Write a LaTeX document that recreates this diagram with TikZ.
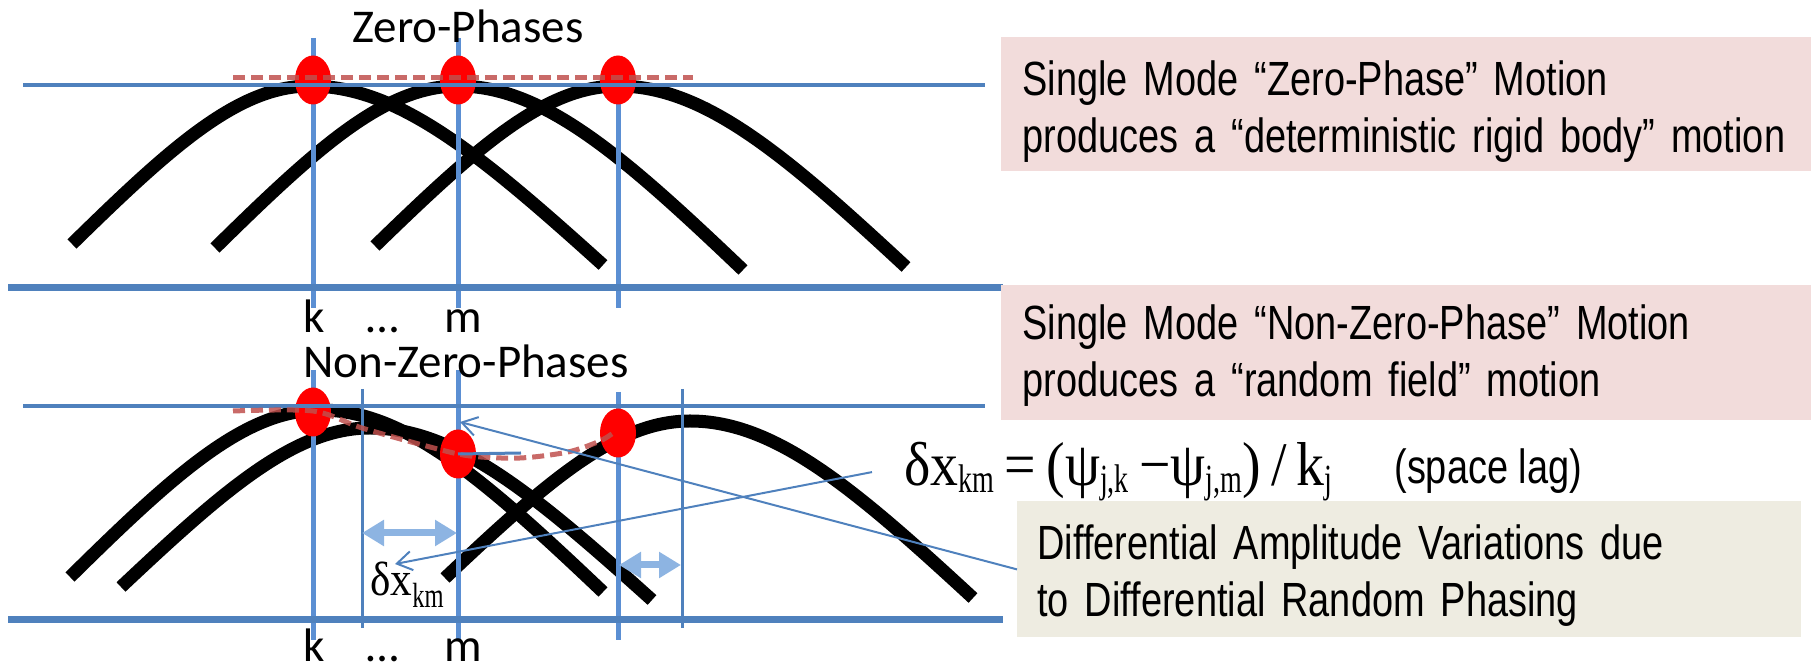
\documentclass[tikz,border=0pt]{standalone}
\usepackage{fontspec}
\setmainfont{Liberation Sans}
\newfontfamily\narrowfont{Liberation Sans}[FakeStretch=0.79]
\newfontfamily\calfont{Carlito}
\newfontfamily\eqfont{Liberation Serif}[FakeStretch=0.9]
\newfontfamily\eqsubfont{Liberation Serif}[FakeStretch=0.7]
\usetikzlibrary{arrows.meta,shapes.geometric}

\definecolor{axisblue}{HTML}{4F81BD}
\definecolor{tickblue}{HTML}{5B8FD3}
\definecolor{lagblue}{HTML}{8DB4E2}
\definecolor{phasered}{HTML}{FF0000}
\definecolor{trendred}{HTML}{C0504D}
\definecolor{notepink}{HTML}{F2DCDB}
\definecolor{notetan}{HTML}{EEECE1}

% arch: left end, peak, right end
\newcommand{\wavearch}[6]{%
  \draw[wave] (#1,#2) .. controls ({#1+0.42*(#3-#1)},{#2-0.62*(#2-#4)}) and ({#3-0.3*(#3-#1)},#4) .. (#3,#4)
    .. controls ({#3+0.3*(#5-#3)},#4) and ({#5-0.42*(#5-#3)},{#6-0.62*(#6-#4)}) .. (#5,#6);}
\newcommand{\eqsub}[2]{\raisebox{-#1}{\eqsubfont\fontsize{20pt}{21pt}\selectfont #2}}
\newcommand{\notefont}{\narrowfont\fontsize{24pt}{28.5pt}\selectfont\spaceskip=5.2pt plus 2pt minus 1pt\relax}

\begin{document}
\begin{tikzpicture}[x=0.5pt,y=-0.5pt,
		wave/.style={line width=6.5pt,black},
		axis/.style={axisblue,line width=3.5pt},
		level/.style={axisblue,line width=1.75pt},
		tick/.style={tickblue,line width=2.5pt},
		guide/.style={axisblue,line width=1.5pt},
		phasedot/.style={ellipse,fill=phasered,minimum width=18pt,minimum height=24.5pt,inner sep=0pt},
		trend/.style={trendred,line width=2.5pt,dash pattern=on 6pt off 3pt,opacity=0.85},
		lag/.style={lagblue,line width=3.5pt,{Triangle[length=11pt,width=12.5pt]}-{Triangle[length=11pt,width=12.5pt]}},
		pointer/.style={axisblue,line width=1pt,-{Straight Barb[length=7.5pt,width=9.5pt]}},
		notebox/.style={anchor=north west,inner sep=0pt,minimum height=67pt},
		notetext/.style={anchor=base west,inner sep=0pt,align=left,text width=400pt,font=\notefont},
		caltext/.style={anchor=base,inner sep=0pt,font=\calfont\fontsize{23.5pt}{28pt}\selectfont}]
		\useasboundingbox (0,0) rectangle (1811,672);

		% zero-phase panel
		\wavearch{72}{244}{310}{86}{603}{265}
		\wavearch{215}{248}{458}{86}{743}{270}
		\wavearch{375}{246}{618}{86}{906}{267}
		\draw[tick] (313,38) -- (313,308);
		\draw[tick] (458,38) -- (458,308);
		\draw[tick] (618,60) -- (618,308);
		\node[phasedot] (zk) at (313,80) {};
		\node[phasedot] (zm) at (458,80) {};
		\node[phasedot] (zn) at (618,80) {};
		\draw[level] (23,85) -- (985,85);
		\draw[trend] (233,78) -- (693,78);
		\draw[axis] (8,288) -- (1003,288);
		\node[caltext] (zerolabel) at (468,43) {Zero-Phases};
		\node[caltext] (zk label) at (314,333) {k};
		\node[caltext] (zdots) at (383,333) {…};
		\node[caltext] (zm label) at (463,333) {m};

		% non-zero-phase panel
		\wavearch{70}{577}{320}{410}{603}{592}
		\wavearch{121}{587}{370}{428}{652}{600}
		\wavearch{445}{578}{690}{421}{973}{598}
		\draw[tick] (313,370) -- (313,640);
		\draw[tick] (458,370) -- (458,640);
		\draw[tick] (618,392) -- (618,640);
		\draw[guide] (362,389) -- (362,628);
		\draw[guide] (682,389) -- (682,628);
		\node[phasedot] (nk) at (313,412) {};
		\node[phasedot] (nm) at (458,454) {};
		\node[phasedot] (nn) at (618,433) {};
		\draw[level] (23,406) -- (985,406);
		\draw[trend] plot[smooth] coordinates {(233,411) (313,411) (362,428) (430,447) (470,456) (520,458) (568,452) (600,441) (616,431)};
		\draw[guide] (nm.center) -- (521,453);
		\draw[axis] (8,620) -- (1003,620);
		\node[caltext] (nonzerolabel) at (466,378) {Non-Zero-Phases};
		\node[caltext] (nk label) at (314,662) {k};
		\node[caltext] (ndots) at (383,662) {…};
		\node[caltext] (nm label) at (463,662) {m};

		% space lags
		\coordinate (lagA) at (362,533);
		\coordinate (lagB) at (457,533);
		\coordinate (lagC) at (619,565);
		\coordinate (lagD) at (681,565);
		\draw[lag] (lagA) -- (lagB);
		\draw[lag] (lagC) -- (lagD);
		\node[anchor=base west,inner sep=0pt,font=\eqfont\fontsize{24pt}{26pt}\selectfont] (lagdelta) at (370,596)
			{δx\raisebox{-6pt}{\eqsubfont\fontsize{17.5pt}{18pt}\selectfont km}};

		% notes
		\node[notebox,fill=notepink,minimum width=405pt] (zerobox) at (1001,37) {};
		\node[notetext] (zerotext) at (1022,96) {Single Mode “Zero-Phase” Motion\\produces a “deterministic rigid body” motion};
		\node[notebox,fill=notepink,minimum width=405pt,minimum height=67.5pt] (nonzerobox) at (1001,285) {};
		\node[notetext] (nonzerotext) at (1022,340) {Single Mode “Non-Zero-Phase” Motion\\produces a “random field” motion};
		\node[anchor=base west,inner sep=0pt,font=\eqfont\fontsize{31pt}{36pt}\selectfont] (lagformula) at (904,486)
			{δx\eqsub{3.5pt}{km}\,=\,(ψ\eqsub{3.5pt}{j,k}\,−ψ\eqsub{3.5pt}{j,m})\,/\,k\eqsub{3.5pt}{j}};
		\node[anchor=base west,inner sep=0pt,font=\notefont] (laglabel) at (1394,484) {(space lag)};
		\node[notebox,fill=notetan,minimum width=392pt,minimum height=68pt] (diffbox) at (1017,501) {};
		\node[notetext] (difftext) at (1037,560) {Differential Amplitude Variations due\\to Differential Random Phasing};

		% pointers
		\coordinate (mtip) at (460,422);
		\coordinate (dxtip) at (395,564);
		\draw[pointer] (diffbox.west) -- (mtip);
		\draw[pointer] ([xshift=-16pt]lagformula.west) -- (dxtip);
	\end{tikzpicture}
\end{document}
